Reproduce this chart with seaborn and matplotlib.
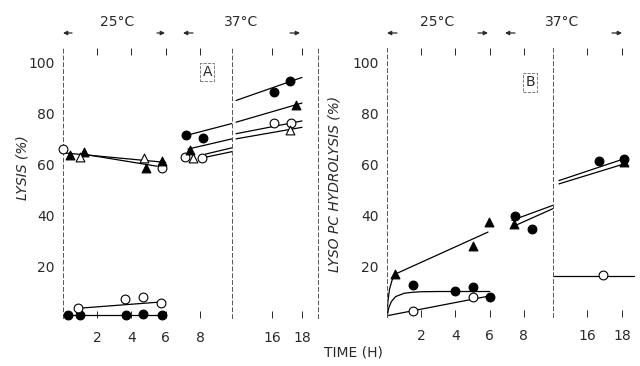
import numpy as np
import matplotlib
matplotlib.use("Agg")
import matplotlib.pyplot as plt
import seaborn as sns

# ---- panel A: lysis (%) ----
a_fc_t = [0.3, 1.0, 3.7, 4.7, 5.8, 7.2, 8.2, 16.1, 17.2]
a_fc_y = [1.2, 1.2, 1.2, 1.6, 1.2, 71.5, 70.4, 88.4, 92.6]
a_oc_t = [0.0, 0.9, 3.6, 4.65, 5.7, 5.8, 7.1, 8.1, 16.1, 17.3]
a_oc_y = [66.0, 3.9, 7.4, 8.2, 5.9, 58.7, 63.0, 62.5, 76.0, 76.3]
a_ft_t = [0.4, 1.25, 4.85, 5.8, 7.4, 17.6]
a_ft_y = [63.7, 65.0, 58.7, 61.3, 65.6, 83.2]
a_ot_t = [1.0, 4.75, 7.6, 17.2]
a_ot_y = [63.0, 62.4, 62.5, 73.4]
# drawn lines (t, y)
a_lines = [
    ([0.1, 6.0], [64.5, 60.8]),
    ([1.2, 5.5], [64.0, 59.3]),
    ([0.0, 6.0], [1.2, 1.2]),
    ([0.9, 6.0], [3.8, 6.4]),
    ([7.0, 9.87], [71.0, 76.0]),
    ([7.3, 9.87], [66.0, 70.0]),
    ([8.3, 9.87], [64.0, 66.5]),
    ([8.3, 9.87], [62.8, 65.0]),
    ([13.6, 18.0], [85.0, 94.0]),
    ([13.6, 18.0], [76.5, 84.0]),
    ([13.6, 18.0], [72.0, 77.0]),
    ([13.6, 18.0], [70.0, 74.5]),
]

# ---- panel B: lyso PC hydrolysis (%) ----
b_fc_t = [1.5, 4.0, 5.0, 6.0, 7.5, 8.45, 16.7, 18.1]
b_fc_y = [12.5, 10.3, 11.6, 7.9, 39.8, 34.6, 61.0, 62.0]
b_ft_t = [0.47, 5.0, 5.95, 7.4, 18.1]
b_ft_y = [16.8, 27.9, 37.3, 36.3, 60.7]
b_oc_t = [1.5, 5.0, 16.9]
b_oc_y = [2.5, 7.7, 16.4]
b_lines = [
    ([0.0, 0.1, 0.25, 0.5, 1.0, 1.5, 2.0, 3.0, 6.0], [0.0, 3.5, 6.0, 8.0, 9.3, 9.7, 9.9, 10.0, 10.0]),
    ([0.0, 0.05, 0.15, 0.3, 0.47], [0.0, 6.0, 11.0, 14.5, 16.8]),
    ([0.47, 5.9], [16.8, 33.3]),
    ([0.0, 5.8], [0.5, 8.0]),
    ([7.3, 9.7], [35.3, 42.5]),
    ([7.3, 9.7], [37.9, 43.8]),
    ([14.4, 18.1], [53.5, 62.0]),
    ([14.4, 18.1], [52.2, 60.0]),
    ([14.1, 18.7], [16.0, 16.0]),
]

left_ticks = [2, 4, 6, 8]
right_ticks = [16, 18]
y_ticks = [20, 40, 60, 80, 100]

INK = "#2a2a2a"
sns.set_style("white")
plt.rcParams["font.family"] = ["DejaVu Sans"]

fig = plt.figure(figsize=(6.4, 3.66), dpi=100)
W, H = 640, 366


def px_axes(x0, x1, y0, y1):
    return fig.add_axes([x0 / W, (H - y1) / H, (x1 - x0) / W, (y1 - y0) / H])


def setup(ax, xlim, ticks, first, right_spine=False):
    ax.set_xlim(xlim)
    ax.set_ylim(0, 105.5)
    ax.set_xticks(ticks)
    ax.set_xticklabels([str(t) for t in ticks])
    ax.tick_params(axis="x", top=True, bottom=True, direction="in", length=5,
                   width=0.7, pad=9, labelsize=10, colors=INK)
    ax.patch.set_alpha(0)
    for s in ["top", "bottom"]:
        ax.spines[s].set_visible(False)
    ax.spines["left"].set_linestyle((0, (4, 3)))
    ax.spines["left"].set_linewidth(0.7)
    ax.spines["left"].set_color("#555555")
    ax.spines["right"].set_visible(right_spine)
    if right_spine:
        ax.spines["right"].set_linestyle((0, (4, 3)))
        ax.spines["right"].set_linewidth(0.7)
        ax.spines["right"].set_color("#555555")
    if first:
        ax.set_yticks(y_ticks)
        ax.tick_params(axis="y", direction="in", length=3, width=0.7, pad=6,
                       labelsize=10, colors=INK)
    else:
        ax.set_yticks([])
    ax.set_xlabel("")
    ax.set_ylabel("")


def draw_points(axl, axr, t, y, marker, filled, split=11):
    t = np.asarray(t)
    y = np.asarray(y)
    for ax, m in ((axl, t < split), (axr, t >= split)):
        if m.any():
            sns.scatterplot(x=t[m], y=y[m], ax=ax, marker=marker, s=40,
                            color="k" if filled else "white", edgecolor="k",
                            linewidth=0.8, zorder=3, clip_on=False)


def draw_lines(axl, axr, lines, split=11):
    for t, y in lines:
        ax = axl if max(t) < split else axr
        sns.lineplot(x=t, y=y, ax=ax, color="k", lw=0.9, sort=False,
                     estimator=None, zorder=2)


axA1 = px_axes(63, 232, 48, 318)
axA2 = px_axes(232, 318, 48, 318)
axB1 = px_axes(387, 553, 48, 317)
axB2 = px_axes(553, 636, 48, 317)

draw_lines(axA1, axA2, a_lines)
draw_points(axA1, axA2, a_fc_t, a_fc_y, "o", True)
draw_points(axA1, axA2, a_oc_t, a_oc_y, "o", False)
draw_points(axA1, axA2, a_ft_t, a_ft_y, "^", True)
draw_points(axA1, axA2, a_ot_t, a_ot_y, "^", False)

draw_lines(axB1, axB2, b_lines)
draw_points(axB1, axB2, b_fc_t, b_fc_y, "o", True)
draw_points(axB1, axB2, b_ft_t, b_ft_y, "^", True)
draw_points(axB1, axB2, b_oc_t, b_oc_y, "o", False)

setup(axA1, (0, 9.87), left_ticks, True)
setup(axA2, (13.33, 19.07), right_ticks, False, right_spine=True)
setup(axB1, (0, 9.7), left_ticks, True)
setup(axB2, (14.06, 18.8), right_ticks, False)

box = dict(boxstyle="square,pad=0.15", fc="none", ec="#666666", ls="--", lw=0.6)
axA1.text(8.42, 96, "A", ha="center", va="center", fontsize=10, color=INK, bbox=box)
axB1.text(8.36, 92, "B", ha="center", va="center", fontsize=10, color=INK, bbox=box)

# temperature bars on top
for xc, lab in [(117, "25°C"), (241, "37°C"), (437, "25°C"), (562, "37°C")]:
    fig.text(xc / W, 1 - 22 / H, lab, ha="center", va="center", fontsize=10, color=INK)
arrows = [(72, 63), (157, 165), (193, 183), (290, 300),
          (397, 387), (478, 488), (515, 505), (612, 622)]
for x0, x1 in arrows:
    fig.add_artist(plt.Annotation("", xy=(x1 / W, 1 - 33 / H), xytext=(x0 / W, 1 - 33 / H),
                                  xycoords="figure fraction",
                                  arrowprops=dict(arrowstyle="-|>", color=INK, lw=0.9,
                                                  mutation_scale=6, shrinkA=0, shrinkB=0)))

fig.text(22 / W, 1 - 168 / H, "LYSIS (%)", rotation=90, ha="center", va="center",
         fontsize=10, style="italic", color=INK)
fig.text(335 / W, 1 - 184 / H, "LYSO PC HYDROLYSIS (%)", rotation=90, ha="center",
         va="center", fontsize=10, style="italic", color=INK)
fig.text(353 / W, 1 - 353 / H, "TIME (H)", ha="center", va="center", fontsize=10, color=INK)

fig.savefig("out.png", dpi=100)
